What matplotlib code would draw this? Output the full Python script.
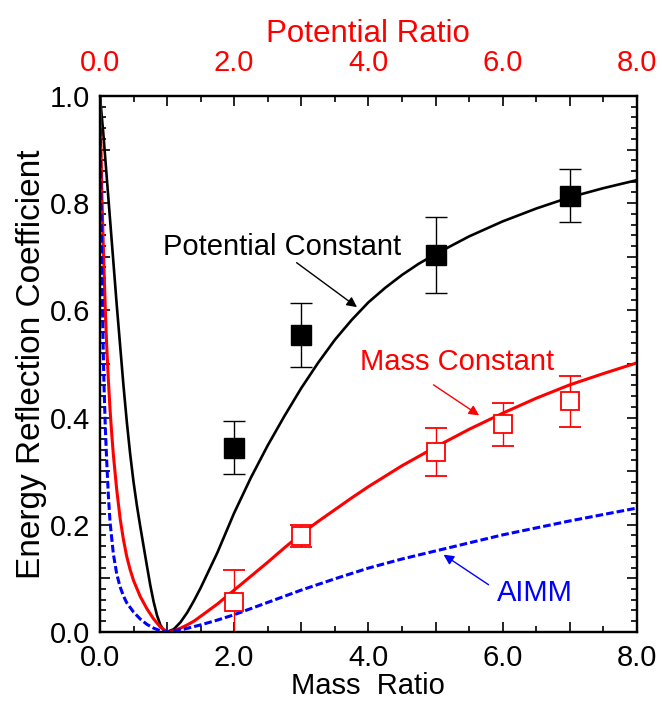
import numpy as np
import matplotlib.pyplot as plt
from matplotlib.ticker import MultipleLocator, FuncFormatter

plt.rcParams['font.family'] = ['Liberation Sans', 'DejaVu Sans']

# theory curves
pot_x = [0.0, 0.05, 0.1, 0.15, 0.2, 0.25, 0.3, 0.35, 0.4, 0.45, 0.5, 0.55, 0.6, 0.65,
         0.7, 0.75, 0.8, 0.85, 0.9, 0.95, 1.0,
         1.1, 1.2, 1.3, 1.4, 1.5, 1.75, 2.0, 2.25, 2.5, 2.75, 3.0, 3.25, 3.5, 3.75,
         4.0, 4.25, 4.5, 4.75, 5.0, 5.5, 6.0, 6.5, 7.0, 7.5, 8.0]
pot_y = [1.0, 0.93, 0.85, 0.77, 0.69, 0.61, 0.535, 0.46, 0.392, 0.332, 0.28, 0.236,
         0.197, 0.16, 0.123, 0.087, 0.056, 0.031, 0.013, 0.003, 0.0,
         0.005, 0.018, 0.036, 0.058, 0.082, 0.148, 0.222, 0.288, 0.348, 0.403, 0.455,
         0.502, 0.545, 0.582, 0.615, 0.642, 0.666, 0.687, 0.705, 0.738, 0.766, 0.790,
         0.811, 0.828, 0.843]

mass_x = [0.0, 0.01, 0.02, 0.03, 0.045, 0.06, 0.08, 0.1, 0.125, 0.15, 0.175, 0.2, 0.25,
          0.3, 0.35, 0.4, 0.45, 0.5, 0.6, 0.7, 0.8, 0.9, 1.0,
          1.1, 1.2, 1.3, 1.4, 1.5, 1.75, 2.0, 2.25, 2.5, 2.75, 3.0, 3.25, 3.5, 3.75,
          4.0, 4.5, 5.0, 5.5, 6.0, 6.5, 7.0, 7.5, 8.0]
mass_y = [1.0, 0.93, 0.87, 0.81, 0.74, 0.68, 0.6, 0.535, 0.47, 0.415, 0.37, 0.33, 0.265,
          0.212, 0.172, 0.14, 0.116, 0.096, 0.066, 0.043, 0.024, 0.009, 0.0,
          0.002, 0.007, 0.013, 0.02, 0.029, 0.052, 0.078, 0.104, 0.13, 0.157, 0.183,
          0.206, 0.228, 0.25, 0.271, 0.31, 0.345, 0.378, 0.408, 0.436, 0.461, 0.482, 0.502]

aimm_x = [0.0, 0.005, 0.01, 0.02, 0.03, 0.045, 0.06, 0.08, 0.1, 0.125, 0.15, 0.2, 0.25,
          0.3, 0.35, 0.4, 0.5, 0.6, 0.7, 0.8, 0.9, 1.0,
          1.25, 1.5, 1.75, 2.0, 2.5, 3.0, 3.5, 4.0, 4.5, 5.0, 5.5, 6.0, 6.5, 7.0, 7.5, 8.0]
aimm_y = [1.0, 0.93, 0.87, 0.76, 0.66, 0.55, 0.46, 0.38, 0.32, 0.255, 0.205, 0.145, 0.108,
          0.084, 0.067, 0.054, 0.037, 0.024, 0.014, 0.007, 0.002, 0.0,
          0.005, 0.013, 0.022, 0.032, 0.055, 0.078, 0.099, 0.119, 0.136, 0.151, 0.166,
          0.181, 0.194, 0.207, 0.219, 0.231]

# measurements
pot_meas_x = [2, 3, 5, 7]
pot_meas_y = [0.344, 0.554, 0.704, 0.814]
pot_meas_err = [0.05, 0.06, 0.071, 0.05]

mass_meas_x = [2, 3, 5, 6, 7]
mass_meas_y = [0.055, 0.179, 0.336, 0.387, 0.430]
mass_meas_err = [0.06, 0.02, 0.045, 0.04, 0.047]

fig = plt.figure(figsize=(6.62, 7.06), dpi=100)
ax = fig.add_axes([0.151, 0.105, 0.811, 0.759])

ax.plot(pot_x, pot_y, color='black', lw=1.9, zorder=3)
ax.plot(mass_x, mass_y, color='red', lw=2.2, zorder=3)
ax.plot(aimm_x, aimm_y, color='blue', lw=2.2, dashes=(2.5, 1.0), zorder=3)

ax.errorbar(pot_meas_x, pot_meas_y, yerr=pot_meas_err, fmt='s', color='black',
            ms=14, mfc='black', mec='black', ecolor='black', elinewidth=1.0,
            capsize=8, capthick=1.0, zorder=5)
ax.errorbar(mass_meas_x, mass_meas_y, yerr=mass_meas_err, fmt='s', color='red',
            ms=13, mfc='white', mec='red', mew=1.3, ecolor='red', elinewidth=1.0,
            capsize=8, capthick=1.0, zorder=5)

# annotations
arrow = dict(arrowstyle='-|>', lw=1.0, mutation_scale=15, shrinkA=0, shrinkB=0)
ax.annotate('', xy=(3.83, 0.606), xytext=(2.93, 0.689),
            arrowprops=dict(arrow, color='black'))
ax.text(2.71, 0.703, 'Potential Constant', fontsize=21, color='black',
        ha='center', va='baseline')

ax.annotate('', xy=(5.65, 0.404), xytext=(4.97, 0.461),
            arrowprops=dict(arrow, color='red'))
ax.text(5.32, 0.489, 'Mass Constant', fontsize=21, color='red',
        ha='center', va='baseline')

ax.annotate('', xy=(5.12, 0.144), xytext=(5.79, 0.088),
            arrowprops=dict(arrow, color='blue'))
ax.text(6.475, 0.058, 'AIMM', fontsize=21, color='blue', ha='center', va='baseline')

ax.set_xlim(0, 8)
ax.set_ylim(0, 1)


def even_fmt(v, pos):
    return '%.1f' % v if abs(v / 2 - round(v / 2)) < 1e-6 else ''


def y_fmt(v, pos):
    return '%.1f' % v if abs(v / 0.2 - round(v / 0.2)) < 1e-6 else ''


ax.xaxis.set_major_locator(MultipleLocator(1))
ax.xaxis.set_minor_locator(MultipleLocator(0.5))
ax.xaxis.set_major_formatter(FuncFormatter(even_fmt))
ax.yaxis.set_major_locator(MultipleLocator(0.1))
ax.yaxis.set_minor_locator(MultipleLocator(0.02))
ax.yaxis.set_major_formatter(FuncFormatter(y_fmt))
ax.tick_params(which='both', direction='in', right=True, width=1.2)
ax.tick_params(which='major', length=7, labelsize=21)
ax.tick_params(axis='x', which='major', pad=9)
ax.tick_params(axis='y', which='major', pad=7)
ax.tick_params(which='minor', length=4)

top = ax.twiny()
top.set_xlim(0, 8)
top.xaxis.set_major_locator(MultipleLocator(1))
top.xaxis.set_minor_locator(MultipleLocator(0.5))
top.xaxis.set_major_formatter(FuncFormatter(even_fmt))
top.tick_params(which='both', direction='in', width=1.2, labelcolor='red')
top.tick_params(which='major', length=7, labelsize=21, pad=13.5)
top.tick_params(which='minor', length=4)
top.set_xlabel('Potential Ratio', color='red', fontsize=22.5, labelpad=5.5)

for a in (ax, top):
    for s in a.spines.values():
        s.set_linewidth(1.6)

ax.set_xlabel('Mass  Ratio', fontsize=21, labelpad=0)
ax.set_ylabel('Energy Reflection Coefficient', fontsize=24, labelpad=2)

fig.savefig('out.png', dpi=100)
